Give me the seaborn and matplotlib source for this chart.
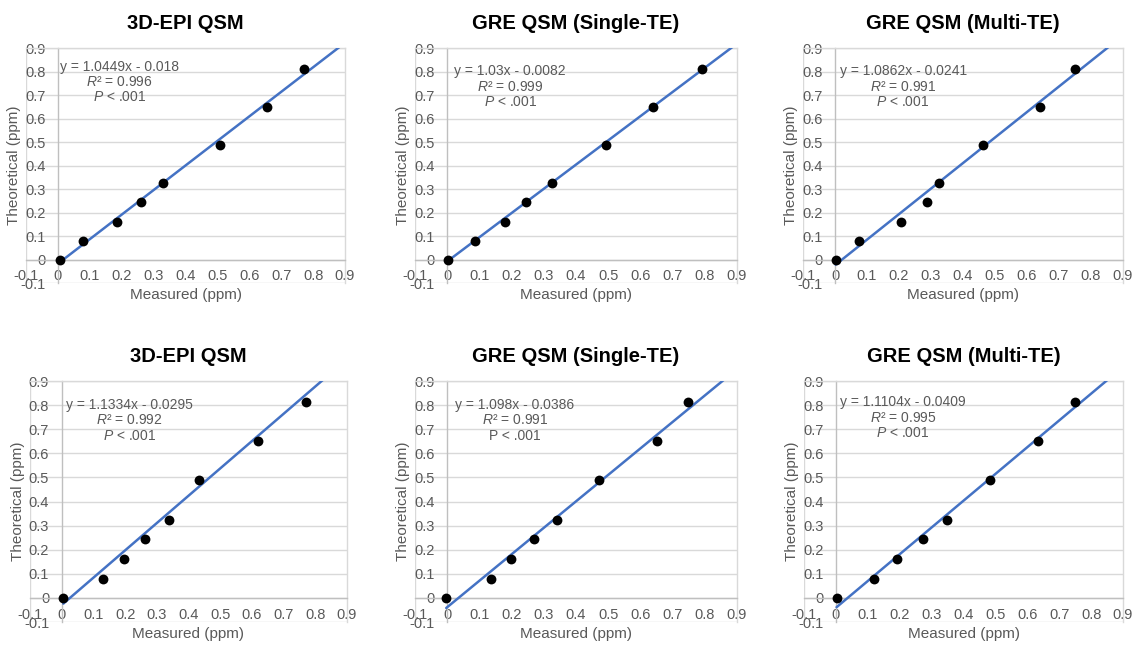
import numpy as np
import pandas as pd
import matplotlib
matplotlib.use("Agg")
import matplotlib.pyplot as plt
from matplotlib.ticker import FuncFormatter
import seaborn as sns

# ---------------- data ----------------
titles = ["3D-EPI QSM", "GRE QSM (Single-TE)", "GRE QSM (Multi-TE)",
          "3D-EPI QSM", "GRE QSM (Single-TE)", "GRE QSM (Multi-TE)"]
theoretical = [0.0, 0.08, 0.16, 0.245, 0.325, 0.488, 0.65, 0.812]
measured_1 = [0.007, 0.078, 0.185, 0.262, 0.330, 0.509, 0.657, 0.771]
measured_2 = [0.002, 0.085, 0.179, 0.244, 0.326, 0.492, 0.638, 0.791]
measured_3 = [0.002, 0.075, 0.206, 0.286, 0.326, 0.463, 0.642, 0.750]
measured_4 = [0.005, 0.130, 0.196, 0.263, 0.339, 0.432, 0.618, 0.771]
measured_5 = [-0.003, 0.137, 0.198, 0.270, 0.342, 0.472, 0.652, 0.749]
measured_6 = [0.002, 0.119, 0.190, 0.273, 0.347, 0.482, 0.635, 0.750]
measured = [measured_1, measured_2, measured_3, measured_4, measured_5, measured_6]
slopes = [1.0449, 1.03, 1.0862, 1.1334, 1.098, 1.1104]
intercepts = [-0.018, -0.0082, -0.0241, -0.0295, -0.0386, -0.0409]
eq_labels = ["y = 1.0449x - 0.018", "y = 1.03x - 0.0082", "y = 1.0862x - 0.0241",
             "y = 1.1334x - 0.0295", "y = 1.098x - 0.0386", "y = 1.1104x - 0.0409"]
r2_labels = ["0.996", "0.999", "0.991", "0.992", "0.991", "0.995"]
p_italic = [True, True, True, True, False, True]
ticks = [-0.1, 0.0, 0.1, 0.2, 0.3, 0.4, 0.5, 0.6, 0.7, 0.8, 0.9]

# ---------------- style ----------------
sns.set_style("white")
plt.rcParams["font.family"] = ["Liberation Sans", "DejaVu Sans"]
plt.rcParams["mathtext.fontset"] = "custom"
plt.rcParams["mathtext.rm"] = "Liberation Sans"
plt.rcParams["mathtext.it"] = "Liberation Sans:italic"

GRAY_TXT = "#595959"
GRID = "#d9d9d9"
AXIS = "#bfbfbf"
BLUE = "#4472C4"

fig = plt.figure(figsize=(11.42, 6.48), dpi=100)
W, H = 1142, 648
# (left, right, top, bottom) in pixels
boxes = [(26, 345, 48, 283), (415, 737, 48, 283), (803, 1123, 48, 283),
         (30, 347, 381, 622), (415, 737, 381, 622), (804, 1123, 381, 622)]
text_pos = [(0.194, 0.85), (0.196, 0.83), (0.213, 0.83),
            (0.214, 0.83), (0.21, 0.83), (0.21, 0.84)]

fmt = FuncFormatter(lambda v, p: "0" if abs(v) < 1e-9 else f"{v:.1f}")

for i in range(6):
    l, r, t, b = boxes[i]
    ax = fig.add_axes([l / W, 1 - b / H, (r - l) / W, (b - t) / H])
    ax.set_xlim(-0.1, 0.9)
    ax.set_ylim(-0.1, 0.9)

    # horizontal gridlines
    for yv in ticks:
        ax.axhline(yv, color=GRID, lw=1.0, zorder=0)
    ax.axvline(-0.1, color=GRID, lw=1.0, zorder=0)

    for side in ["top", "right"]:
        ax.spines[side].set_color(GRID)
        ax.spines[side].set_linewidth(1.0)
    ax.spines["left"].set_position(("data", 0))
    ax.spines["bottom"].set_position(("data", 0))
    ax.spines["left"].set_color(AXIS)
    ax.spines["bottom"].set_color(AXIS)
    ax.spines["left"].set_linewidth(1.0)
    ax.spines["bottom"].set_linewidth(1.0)

    ax.set_xticks(ticks)
    ax.set_yticks(ticks)
    ax.xaxis.set_major_formatter(fmt)
    ax.yaxis.set_major_formatter(fmt)
    ax.tick_params(axis="x", length=0, pad=7, labelsize=10.5, labelcolor=GRAY_TXT)
    ax.tick_params(axis="y", length=0, pad=9, labelsize=10.5, labelcolor=GRAY_TXT)

    # regression line from stated equation
    x0 = min(measured[i])
    xs = [x0, 1.0]
    ys = [slopes[i] * x + intercepts[i] for x in xs]
    sns.lineplot(x=xs, y=ys, ax=ax, color=BLUE, lw=1.8, zorder=3)

    df = pd.DataFrame({"m": measured[i], "t": theoretical})
    sns.scatterplot(data=df, x="m", y="t", ax=ax, color="black", s=50,
                    linewidth=0, zorder=4, clip_on=False)

    ax.set_xlabel("Measured (ppm)", fontsize=11, color=GRAY_TXT)
    ax.set_ylabel("Theoretical (ppm)", fontsize=11, color=GRAY_TXT)
    ax.xaxis.set_label_coords(0.5, -0.02)
    ax.yaxis.set_label_coords(-0.015, 0.5)

    ax.set_title(titles[i], fontsize=14.5, fontweight="bold", pad=14, color="black")

    p_txt = "$P$ < .001" if p_italic[i] else "P < .001"
    txt = eq_labels[i] + "\n" + "$R$² = " + r2_labels[i] + "\n" + p_txt
    tx, ty = text_pos[i]
    ax.text(tx, ty, txt, ha="center", va="top", multialignment="center",
            fontsize=10, color=GRAY_TXT, linespacing=1.12, zorder=5)

fig.savefig("out.png", dpi=100, facecolor="white")
